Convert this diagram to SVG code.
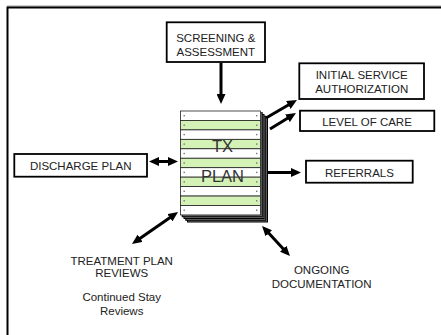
<svg xmlns="http://www.w3.org/2000/svg" width="441" height="335" viewBox="0 0 441 335">
<defs>
<style>
.box{fill:#fff;stroke:#000;stroke-width:1.8}
.t{font-family:"Liberation Sans",Arial,sans-serif;font-size:11.5px;fill:#222;text-anchor:middle}
.big{font-family:"Liberation Sans",Arial,sans-serif;font-size:16.5px;fill:#333;text-anchor:middle}
.w{fill:#fff;stroke:#222;stroke-width:0.8}
.g{fill:#d4f2b6;stroke:#222;stroke-width:0.8}
.back{fill:#777;stroke:#000;stroke-width:1}
.dot{fill:#777}
.arr{stroke:#000;stroke-width:3;fill:none}
</style>
<marker id="ah" markerUnits="userSpaceOnUse" markerWidth="10" markerHeight="9" refX="3" refY="4.5" orient="auto-start-reverse">
<path d="M0,0 L10,4.5 L0,9 z" fill="#000"/>
</marker>
</defs>
<rect width="441" height="335" fill="#fff"/>
<line x1="7" y1="6" x2="441" y2="6" stroke="#999" stroke-width="1"/>
<rect x="7.5" y="7.5" width="500" height="400" fill="none" stroke="#000" stroke-width="2"/>

<g id="connectors">
<line class="arr" x1="221" y1="63" x2="221" y2="97" marker-end="url(#ah)"/>
<line class="arr" x1="266" y1="118" x2="290.9" y2="103.5" marker-end="url(#ah)"/>
<line class="arr" x1="270" y1="129" x2="290" y2="116.7" marker-end="url(#ah)"/>
<line class="arr" x1="262" y1="172.5" x2="294" y2="172.5" marker-end="url(#ah)"/>
<line class="arr" x1="156" y1="161.5" x2="171" y2="161.5" marker-start="url(#ah)" marker-end="url(#ah)"/>
<line class="arr" x1="137.7" y1="240" x2="172.3" y2="216" marker-start="url(#ah)" marker-end="url(#ah)"/>
<line class="arr" x1="266.8" y1="231.1" x2="285.2" y2="250.9" marker-start="url(#ah)" marker-end="url(#ah)"/>
</g>

<g id="tx-plan">
<rect class="back" x="187.5" y="118" width="80" height="104"/>
<rect class="back" x="185.75" y="116.25" width="80" height="104"/>
<rect class="back" x="184" y="114.5" width="80" height="104"/>
<rect class="back" x="182.25" y="112.75" width="80" height="104"/>
<rect class="w" x="180.5" y="111" width="80" height="9.45"/>
<rect class="g" x="180.5" y="120.45" width="80" height="9.45"/>
<rect class="w" x="180.5" y="129.9" width="80" height="9.45"/>
<rect class="g" x="180.5" y="139.35" width="80" height="9.45"/>
<rect class="w" x="180.5" y="148.8" width="80" height="9.45"/>
<rect class="g" x="180.5" y="158.25" width="80" height="9.45"/>
<rect class="w" x="180.5" y="167.7" width="80" height="9.45"/>
<rect class="g" x="180.5" y="177.15" width="80" height="9.45"/>
<rect class="w" x="180.5" y="186.6" width="80" height="9.45"/>
<rect class="g" x="180.5" y="196.05" width="80" height="9.45"/>
<rect class="w" x="180.5" y="205.5" width="80" height="9.45"/>
<g class="dot">
<rect x="183.5" y="115" width="1.4" height="1.4"/><rect x="256" y="115" width="1.4" height="1.4"/>
<rect x="183.5" y="124.5" width="1.4" height="1.4"/><rect x="256" y="124.5" width="1.4" height="1.4"/>
<rect x="183.5" y="133.9" width="1.4" height="1.4"/><rect x="256" y="133.9" width="1.4" height="1.4"/>
<rect x="183.5" y="143.4" width="1.4" height="1.4"/><rect x="256" y="143.4" width="1.4" height="1.4"/>
<rect x="183.5" y="152.8" width="1.4" height="1.4"/><rect x="256" y="152.8" width="1.4" height="1.4"/>
<rect x="183.5" y="162.3" width="1.4" height="1.4"/><rect x="256" y="162.3" width="1.4" height="1.4"/>
<rect x="183.5" y="171.7" width="1.4" height="1.4"/><rect x="256" y="171.7" width="1.4" height="1.4"/>
<rect x="183.5" y="181.2" width="1.4" height="1.4"/><rect x="256" y="181.2" width="1.4" height="1.4"/>
<rect x="183.5" y="190.6" width="1.4" height="1.4"/><rect x="256" y="190.6" width="1.4" height="1.4"/>
<rect x="183.5" y="200.1" width="1.4" height="1.4"/><rect x="256" y="200.1" width="1.4" height="1.4"/>
<rect x="183.5" y="209.5" width="1.4" height="1.4"/><rect x="256" y="209.5" width="1.4" height="1.4"/>
</g>
<text class="big" x="222.5" y="152.3">TX</text>
<text class="big" x="222.5" y="182.3">PLAN</text>
</g>

<g id="screening">
<rect class="box" x="166.7" y="22.3" width="98.3" height="39.7"/>
<text class="t" x="215.8" y="42">SCREENING &amp;</text>
<text class="t" x="215.8" y="55.5">ASSESSMENT</text>
</g>

<g id="initial-service">
<rect class="box" x="299.3" y="63.3" width="124.7" height="35.7"/>
<text class="t" x="361.7" y="79">INITIAL SERVICE</text>
<text class="t" x="361.7" y="93">AUTHORIZATION</text>
</g>

<g id="level-of-care">
<rect class="box" x="300" y="110.7" width="134.3" height="20.3"/>
<text class="t" x="367" y="125.5">LEVEL OF CARE</text>
</g>

<g id="referrals">
<rect class="box" x="306" y="160.7" width="106.7" height="22"/>
<text class="t" x="359.4" y="176.7">REFERRALS</text>
</g>

<g id="discharge-plan">
<rect class="box" x="14.3" y="154" width="132.7" height="22.7"/>
<text class="t" x="80.7" y="169.7">DISCHARGE PLAN</text>
</g>

<g id="treatment-plan-reviews">
<text class="t" x="121.7" y="265">TREATMENT PLAN</text>
<text class="t" x="121.7" y="277.3">REVIEWS</text>
<text class="t" x="121.7" y="300.7">Continued Stay</text>
<text class="t" x="121.7" y="314.5">Reviews</text>
</g>

<g id="ongoing-documentation">
<text class="t" x="321.7" y="274">ONGOING</text>
<text class="t" x="321.7" y="288.3">DOCUMENTATION</text>
</g>
</svg>
